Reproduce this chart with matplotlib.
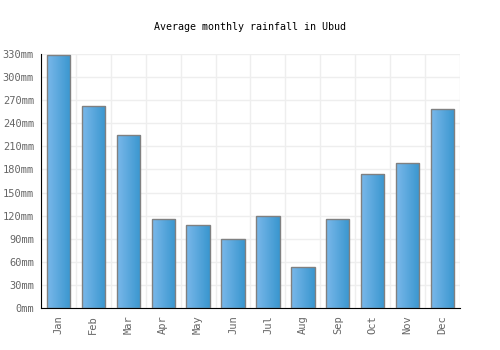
import numpy as np
import matplotlib.pyplot as plt
from matplotlib.colors import LinearSegmentedColormap

months = ["Jan", "Feb", "Mar", "Apr", "May", "Jun",
          "Jul", "Aug", "Sep", "Oct", "Nov", "Dec"]
rainfall = [329, 262, 225, 116, 108, 90, 119, 53, 116, 174, 188, 258]
yticks = list(range(0, 331, 30))
ytick_labels = [f"{v}mm" for v in yticks]

plt.rcParams["font.family"] = "DejaVu Sans Mono"

fig = plt.figure(figsize=(5, 3.5), dpi=100)
ax = fig.add_axes([0.082, 0.12, 0.838, 0.7257])

x = np.arange(len(months))
bars = ax.bar(x, rainfall, width=0.67, color="none", edgecolor="#808080",
              linewidth=1, zorder=3)

# left-to-right gradient inside each bar
cmap = LinearSegmentedColormap.from_list("bar", ["#7ab8ea", "#3996cf"])
grad = np.linspace(0, 1, 64).reshape(1, -1)
for b in bars:
    x0, w, h = b.get_x(), b.get_width(), b.get_height()
    im = ax.imshow(grad, cmap=cmap, aspect="auto", extent=(x0, x0 + w, 0, h),
                   zorder=2, interpolation="bilinear")
    im.set_clip_path(b)

ax.set_xlim(-0.5, len(months) - 0.5)
ax.set_ylim(0, 330)
ax.set_yticks(yticks)
ax.set_yticklabels(ytick_labels)
ax.set_xticks(x)
ax.set_xticklabels(months, rotation=90)
ax.set_xticks(np.arange(-0.5, len(months), 1), minor=True)

ax.grid(True, axis="y", color="#eeeeee", linewidth=1, zorder=0)
ax.grid(True, axis="x", which="minor", color="#eeeeee", linewidth=1, zorder=0)
ax.set_axisbelow(True)

for s in ["top", "right"]:
    ax.spines[s].set_visible(False)
ax.spines["left"].set_color("black")
ax.spines["bottom"].set_color("black")

ax.tick_params(axis="both", which="both", length=0, labelsize=7.5,
               labelcolor="#666666")
ax.tick_params(axis="y", pad=5)
ax.tick_params(axis="x", pad=5)

fig.text(0.5, 0.923, "Average monthly rainfall in Ubud", ha="center",
         va="center", fontsize=7.2, color="black")

fig.savefig("out.png", dpi=100)
